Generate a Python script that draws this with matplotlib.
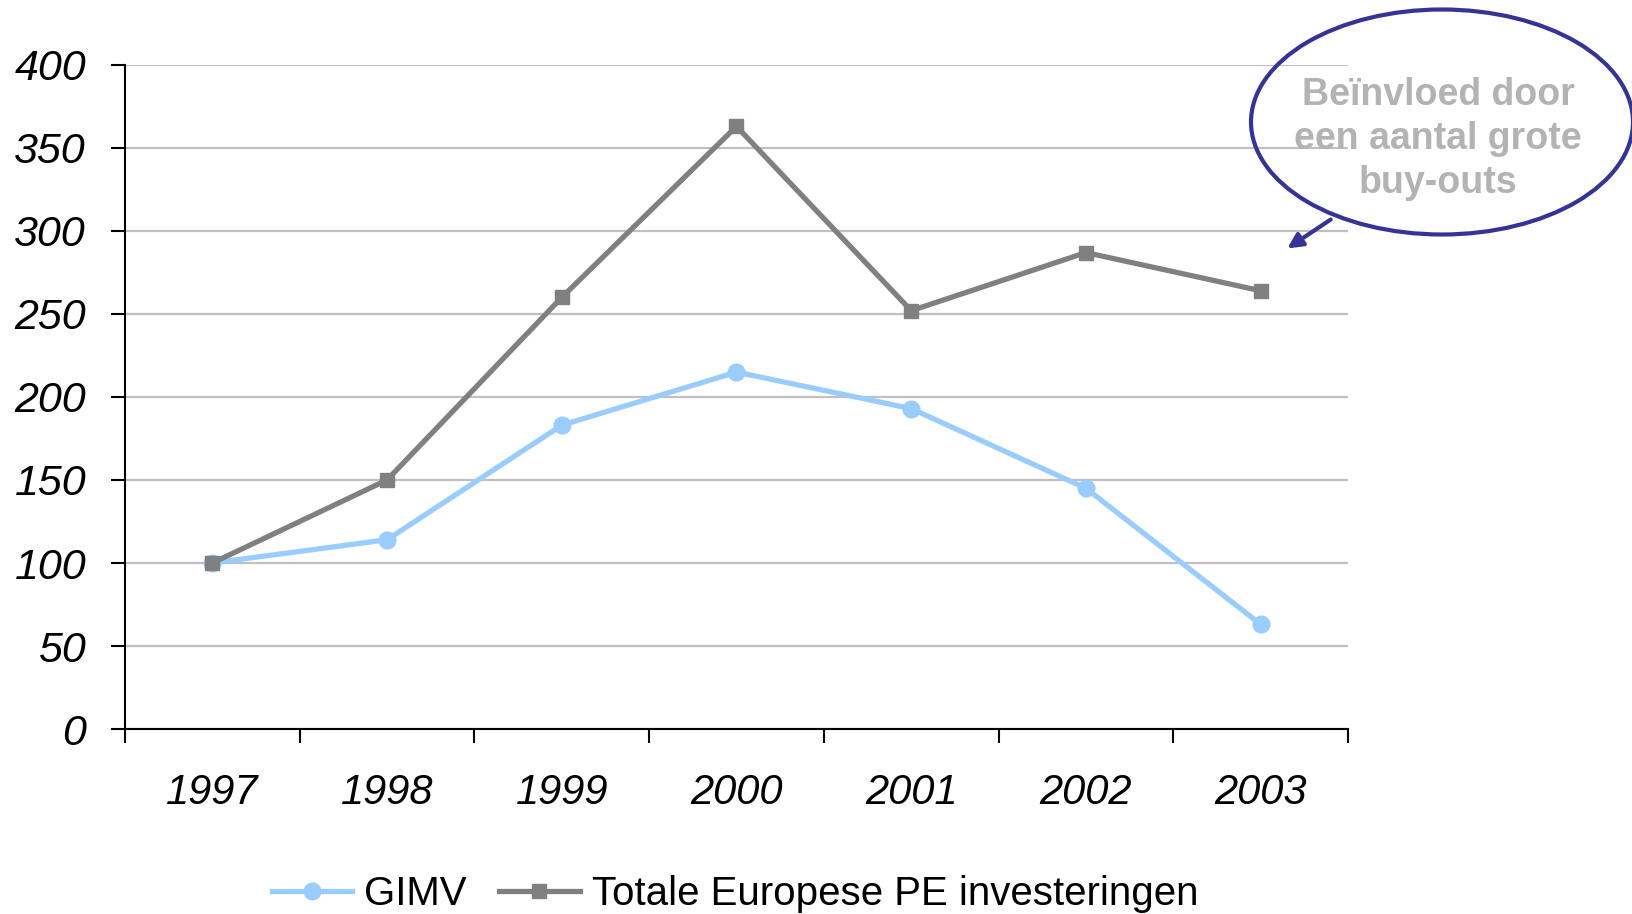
import matplotlib.pyplot as plt
from matplotlib.patches import Ellipse, FancyArrowPatch
import numpy as np

plt.rcParams['font.family'] = ['Liberation Sans', 'DejaVu Sans']

years = ["1997", "1998", "1999", "2000", "2001", "2002", "2003"]
gimv = [100, 114, 183, 215, 193, 145, 63]
totaal = [100, 150, 260, 363, 252, 287, 264]
y_ticks = [0, 50, 100, 150, 200, 250, 300, 350, 400]

fig = plt.figure(figsize=(16.33, 9.14), dpi=100)
ax = fig.add_axes([0.0765, 0.2024, 0.749, 0.7265])

x = np.arange(len(years))
ax.plot(x, gimv, color="#99CCFF", lw=3.8, marker="o", ms=12,
        label="GIMV", zorder=3)
ax.plot(x, totaal, color="#808080", lw=3.8, marker="s", ms=10,
        label="Totale Europese PE investeringen", zorder=3)

ax.set_xlim(-0.5, len(years) - 0.5)
ax.set_ylim(0, 400)
ax.set_yticks(y_ticks)
ax.set_yticklabels([str(v) for v in y_ticks], fontsize=31, style="italic")
ax.yaxis.grid(True, color="#C0C0C0", lw=1.6)
ax.set_axisbelow(True)

# category boundaries carry the tick marks, labels sit in between
ax.set_xticks(np.arange(-0.5, len(years), 1.0))
ax.set_xticklabels([])
ax.set_xticks(x, minor=True)
ax.set_xticklabels(years, minor=True, fontsize=30, style="italic")
ax.tick_params(axis="x", which="minor", length=0, pad=32)
ax.tick_params(axis="x", which="major", length=10, width=1.5, direction="out")
ax.tick_params(axis="y", length=10, width=1.5, pad=18)

for s in ["top", "right"]:
    ax.spines[s].set_visible(False)
for s in ["left", "bottom"]:
    ax.spines[s].set_linewidth(1.5)

fig.legend(loc="center", bbox_to_anchor=(0.45, 0.022), ncol=2, frameon=False,
           fontsize=29, handlelength=2.0, handletextpad=0.3, columnspacing=0.8)

# callout
ell = Ellipse((1442 / 1633, 1 - 122 / 914), 382 / 1633, 225 / 914,
              transform=fig.transFigure, fill=False, ec="#333399", lw=3,
              clip_on=False)
fig.add_artist(ell)
fig.text(1438 / 1633, 1 - 139 / 914, "Beïnvloed door\neen aantal grote\nbuy-outs",
         ha="center", va="center", fontsize=27, fontweight="bold",
         color="#B3B3B3", linespacing=1.27)
fig.add_artist(FancyArrowPatch(
    (1333 / 1633, 1 - 218 / 914), (1285 / 1633, 1 - 250 / 914),
    transform=fig.transFigure, arrowstyle="-|>", mutation_scale=22,
    color="#333399", lw=3))

fig.savefig("out.png", dpi=100)
